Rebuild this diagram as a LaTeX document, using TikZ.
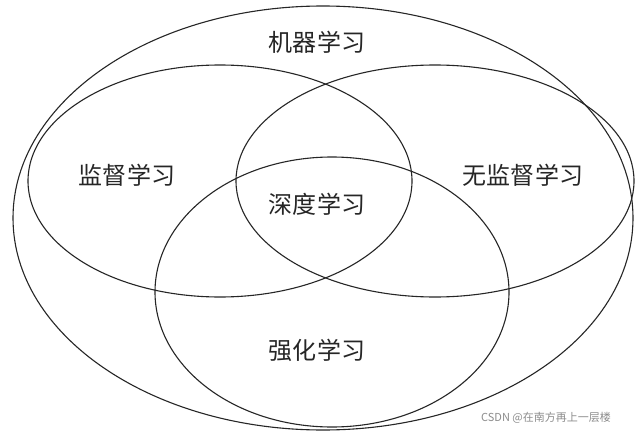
\documentclass[tikz,border=0pt]{standalone}
\usepackage{fontspec}
\newfontfamily\cjk{Noto Sans CJK SC}
\begin{document}
\begin{tikzpicture}[x=1pt,y=-1pt,
  set/.style={draw=black!85,line width=1.1pt},
  lbl/.style={font=\cjk\fontsize{24}{24}\selectfont\addfontfeatures{LetterSpace=2}, text=black!85}]
\useasboundingbox (0,0) rectangle (640,439);
\fill[white] (0,0) rectangle (640,439);
\draw[set] (323,218) ellipse [x radius=310, y radius=212];
\draw[set] (220,181) ellipse [x radius=192, y radius=116];
\draw[set] (435,181) ellipse [x radius=199, y radius=116];
\draw[set] (332,292) ellipse [x radius=177, y radius=135];
\node[lbl] (ml) at (317,42) {机器学习};
\node[lbl] (sl) at (127,175) {监督学习};
\node[lbl] (ul) at (523,175) {无监督学习};
\node[lbl] (dl) at (317,204) {深度学习};
\node[lbl] (rl) at (317,350) {强化学习};
\node[font=\cjk\fontsize{11}{11}\selectfont, text=black!45] (wm) at (546,418) {CSDN @在南方再上一层楼};
\end{tikzpicture}
\end{document}
